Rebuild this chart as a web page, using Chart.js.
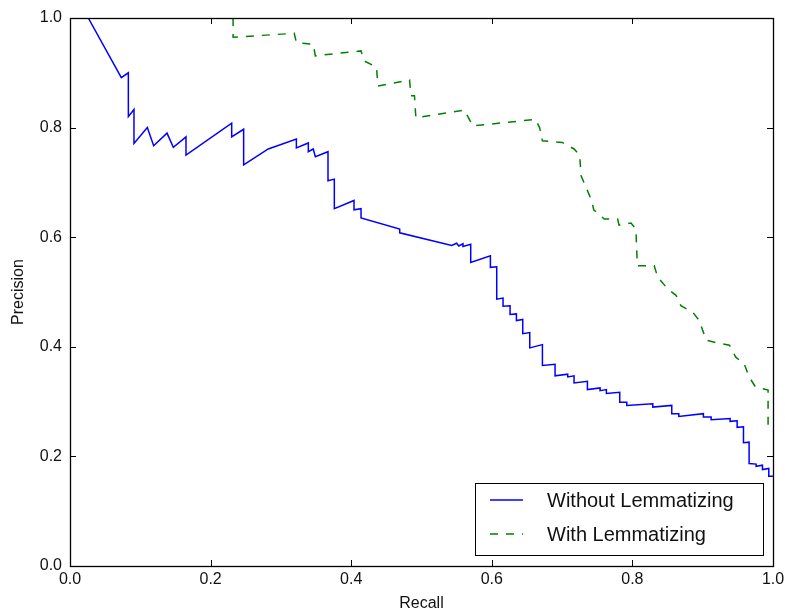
<!DOCTYPE html>
<html lang="en">
<head>
<meta charset="UTF-8">
<title>Precision-Recall</title>
<style>
body { margin:0; padding:0; background:#fff; }
#wrap { width:785px; height:614px; }
</style>
</head>
<body>
<div id="wrap"><canvas id="chart" width="785" height="614"></canvas></div>

<script src="https://cdn.jsdelivr.net/npm/chart.js"></script>
<script>
// PR curve without lemmatizing
const recallPlain = [
  0.026, 0.073, 0.083, 0.083, 0.091, 0.091, 0.110, 0.119, 0.138, 0.147,
  0.165, 0.165, 0.230, 0.230, 0.247, 0.247, 0.282, 0.322, 0.322, 0.339,
  0.339, 0.346, 0.349, 0.367, 0.367, 0.376, 0.376, 0.404, 0.404, 0.414,
  0.414, 0.469, 0.469, 0.543, 0.550, 0.553, 0.559, 0.559, 0.570, 0.570,
  0.598, 0.598, 0.607, 0.607, 0.616, 0.616, 0.626, 0.626, 0.635, 0.635,
  0.644, 0.644, 0.654, 0.654, 0.672, 0.672, 0.690, 0.690, 0.708, 0.708,
  0.717, 0.717, 0.736, 0.736, 0.754, 0.754, 0.763, 0.763, 0.782, 0.782,
  0.792, 0.792, 0.829, 0.829, 0.856, 0.856, 0.866, 0.866, 0.901, 0.901,
  0.912, 0.912, 0.939, 0.939, 0.949, 0.949, 0.958, 0.958, 0.966, 0.966,
  0.976, 0.976, 0.985, 0.985, 0.994, 0.994, 1.000
];
const precisionPlain = [
  1.000, 0.891, 0.900, 0.820, 0.833, 0.771, 0.800, 0.767, 0.790, 0.764,
  0.783, 0.750, 0.808, 0.783, 0.797, 0.732, 0.761, 0.779, 0.763, 0.772,
  0.756, 0.761, 0.747, 0.756, 0.703, 0.706, 0.652, 0.667, 0.650, 0.652,
  0.635, 0.615, 0.608, 0.585, 0.589, 0.584, 0.588, 0.583, 0.587, 0.554,
  0.566, 0.545, 0.546, 0.487, 0.489, 0.474, 0.475, 0.459, 0.460, 0.448,
  0.450, 0.424, 0.426, 0.398, 0.404, 0.366, 0.368, 0.347, 0.350, 0.345,
  0.347, 0.334, 0.337, 0.322, 0.325, 0.320, 0.322, 0.315, 0.317, 0.299,
  0.299, 0.293, 0.296, 0.290, 0.293, 0.278, 0.278, 0.273, 0.278, 0.272,
  0.272, 0.267, 0.269, 0.264, 0.265, 0.253, 0.254, 0.225, 0.226, 0.187,
  0.186, 0.182, 0.184, 0.176, 0.178, 0.164, 0.164
];

// PR curve with lemmatizing
const recallLemma = [
  0.232, 0.232, 0.319, 0.322, 0.346, 0.349, 0.414, 0.418, 0.436, 0.438,
  0.483, 0.485, 0.490, 0.492, 0.561, 0.573, 0.662, 0.668, 0.672, 0.700,
  0.717, 0.725, 0.727, 0.735, 0.742, 0.745, 0.760, 0.779, 0.781, 0.798,
  0.805, 0.807, 0.831, 0.836, 0.850, 0.862, 0.869, 0.886, 0.895, 0.905,
  0.921, 0.938, 0.947, 0.959, 0.966, 0.975, 0.993, 0.993, 1.000
];
const precisionLemma = [
  1.000, 0.965, 0.972, 0.955, 0.952, 0.931, 0.940, 0.922, 0.910, 0.876,
  0.887, 0.858, 0.858, 0.818, 0.832, 0.803, 0.815, 0.800, 0.776, 0.773,
  0.761, 0.750, 0.712, 0.688, 0.667, 0.650, 0.633, 0.633, 0.622, 0.626,
  0.615, 0.548, 0.548, 0.527, 0.506, 0.494, 0.475, 0.463, 0.448, 0.412,
  0.407, 0.403, 0.381, 0.369, 0.345, 0.327, 0.321, 0.257, 0.257
];

const axisTicks = [0, 0.2, 0.4, 0.6, 0.8, 1.0];
const seriesNames = ['Without Lemmatizing', 'With Lemmatizing'];

const FONT = '"Liberation Sans", Arial, sans-serif';

function pairs(xs, ys) {
  return xs.map((x, i) => ({ x: x, y: ys[i] }));
}

// frame + inward ticks on all four sides (classic matplotlib look)
const frameTicks = {
  id: 'frameTicks',
  afterDatasetsDraw(chart) {
    const { ctx, chartArea: a, scales } = chart;
    const len = 6;
    ctx.save();
    ctx.strokeStyle = '#000';
    ctx.lineWidth = 1;
    ctx.beginPath();
    axisTicks.forEach(v => {
      const px = Math.round(scales.x.getPixelForValue(v)) + 0.5;
      ctx.moveTo(px, a.bottom); ctx.lineTo(px, a.bottom - len);
      ctx.moveTo(px, a.top); ctx.lineTo(px, a.top + len);
      const py = Math.round(scales.y.getPixelForValue(v)) + 0.5;
      ctx.moveTo(a.left, py); ctx.lineTo(a.left + len, py);
      ctx.moveTo(a.right, py); ctx.lineTo(a.right - len, py);
    });
    ctx.stroke();
    ctx.lineWidth = 1.3;
    ctx.strokeRect(Math.round(a.left) + 0.5, Math.round(a.top) + 0.5,
                   Math.round(a.right - a.left), Math.round(a.bottom - a.top));
    ctx.restore();
  }
};

// legend box in the lower right corner of the axes
const boxLegend = {
  id: 'boxLegend',
  afterDraw(chart) {
    const { ctx, chartArea: a } = chart;
    const w = 288, h = 72;
    const x0 = a.right - 10 - w, y0 = a.bottom - 11 - h;
    ctx.save();
    ctx.fillStyle = '#fff';
    ctx.fillRect(x0, y0, w, h);
    ctx.strokeStyle = '#000';
    ctx.lineWidth = 1;
    ctx.strokeRect(x0 + 0.5, y0 + 0.5, w, h);
    ctx.font = '20px ' + FONT;
    ctx.textBaseline = 'middle';
    ctx.fillStyle = '#111';
    chart.data.datasets.forEach((ds, i) => {
      const cy = y0 + 17 + i * 34;
      ctx.strokeStyle = ds.borderColor;
      ctx.lineWidth = ds.borderWidth;
      ctx.setLineDash(ds.borderDash || []);
      ctx.beginPath();
      ctx.moveTo(x0 + 15, cy);
      ctx.lineTo(x0 + 48, cy);
      ctx.stroke();
      ctx.setLineDash([]);
      ctx.fillText(seriesNames[i], x0 + 72, cy + 1);
    });
    ctx.restore();
  }
};

new Chart(document.getElementById('chart').getContext('2d'), {
  type: 'scatter',
  data: {
    datasets: [
      {
        label: seriesNames[0],
        data: pairs(recallPlain, precisionPlain),
        showLine: true,
        borderColor: '#0000ff',
        borderWidth: 1.5,
        pointRadius: 0,
        tension: 0
      },
      {
        label: seriesNames[1],
        data: pairs(recallLemma, precisionLemma),
        showLine: true,
        borderColor: '#008000',
        borderWidth: 1.5,
        borderDash: [8, 8],
        pointRadius: 0,
        tension: 0
      }
    ]
  },
  options: {
    responsive: false,
    animation: false,
    events: [],
    layout: { padding: { top: 18, right: 12, left: 0, bottom: 0 } },
    plugins: { legend: { display: false }, tooltip: { enabled: false } },
    scales: {
      x: {
        type: 'linear', min: 0, max: 1,
        afterBuildTicks: s => { s.ticks = axisTicks.map(v => ({ value: v })); },
        afterFit: s => { s.height = 48; s.paddingLeft = 0; s.paddingRight = 0; },
        grid: { display: false, drawTicks: false },
        border: { display: false },
        ticks: { padding: 4, color: '#111', font: { family: FONT, size: 16 },
                 callback: v => v.toFixed(1) },
        title: { display: true, text: 'Recall', color: '#111',
                 font: { family: FONT, size: 16 }, padding: { top: 1, bottom: 1 } }
      },
      y: {
        type: 'linear', min: 0, max: 1,
        afterBuildTicks: s => { s.ticks = axisTicks.map(v => ({ value: v })); },
        afterFit: s => { s.width = 70; s.paddingTop = 0; s.paddingBottom = 0; },
        grid: { display: false, drawTicks: false },
        border: { display: false },
        ticks: { padding: 8, color: '#111', font: { family: FONT, size: 16 },
                 callback: v => v.toFixed(1) },
        title: { display: true, text: 'Precision', color: '#111',
                 font: { family: FONT, size: 16 }, padding: { top: 9, bottom: 0 } }
      }
    }
  },
  plugins: [frameTicks, boxLegend]
});
</script>
</body>
</html>
